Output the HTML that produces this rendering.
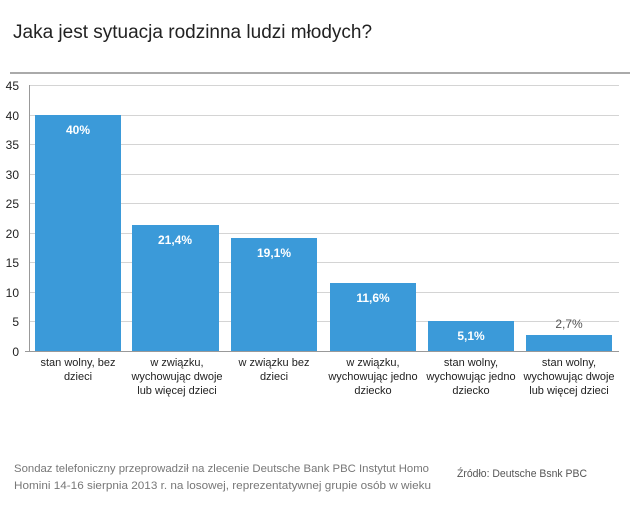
<!DOCTYPE html>
<html><head><meta charset="utf-8"><style>
body{margin:0;width:640px;height:507px;background:#fff;overflow:hidden;font-family:"Liberation Sans",sans-serif}
</style></head><body>
<svg width="640" height="507" xmlns="http://www.w3.org/2000/svg" font-family="Liberation Sans, sans-serif">
<text x="13" y="38" font-size="19" fill="#222">Jaka jest sytuacja rodzinna ludzi młodych?</text>
<line x1="10" y1="73" x2="630" y2="73" stroke="#aaa" stroke-width="2"/>
<g stroke="#d4d4d4" stroke-width="1">
<line x1="29" y1="85.5" x2="619" y2="85.5"/><line x1="29" y1="115.5" x2="619" y2="115.5"/>
<line x1="29" y1="144.5" x2="619" y2="144.5"/><line x1="29" y1="174.5" x2="619" y2="174.5"/>
<line x1="29" y1="203.5" x2="619" y2="203.5"/><line x1="29" y1="233.5" x2="619" y2="233.5"/>
<line x1="29" y1="262.5" x2="619" y2="262.5"/><line x1="29" y1="292.5" x2="619" y2="292.5"/>
<line x1="29" y1="321.5" x2="619" y2="321.5"/>
</g>
<line x1="29.5" y1="85" x2="29.5" y2="352" stroke="#999"/>
<line x1="25" y1="351.5" x2="619" y2="351.5" stroke="#999"/>
<g font-size="12" fill="#222" text-anchor="end">
<text x="19" y="90">45</text><text x="19" y="120">40</text><text x="19" y="149">35</text>
<text x="19" y="179">30</text><text x="19" y="208">25</text><text x="19" y="238">20</text>
<text x="19" y="267">15</text><text x="19" y="297">10</text><text x="19" y="326">5</text><text x="19" y="356">0</text>
</g>
<g fill="#3b9ad9">
<rect x="35" y="115" width="86" height="236"/>
<rect x="132" y="225" width="87" height="126"/>
<rect x="231" y="238" width="86" height="113"/>
<rect x="330" y="283" width="86" height="68"/>
<rect x="428" y="321" width="86" height="30"/>
<rect x="526" y="335" width="86" height="16"/>
</g>
<g font-size="12" font-weight="bold" fill="#fff" text-anchor="middle">
<text x="78" y="134">40%</text><text x="175" y="244">21,4%</text><text x="274" y="257">19,1%</text>
<text x="373" y="302">11,6%</text><text x="471" y="340">5,1%</text>
<text x="569" y="328" fill="#555" font-weight="normal">2,7%</text>
</g>
<g font-size="11" fill="#222" text-anchor="middle">
<text x="78" y="366">stan wolny, bez</text><text x="78" y="380">dzieci</text>
<text x="177" y="366">w związku,</text><text x="177" y="380">wychowując dwoje</text><text x="177" y="394">lub więcej dzieci</text>
<text x="274" y="366">w związku bez</text><text x="274" y="380">dzieci</text>
<text x="373" y="366">w związku,</text><text x="373" y="380">wychowując jedno</text><text x="373" y="394">dziecko</text>
<text x="471" y="366">stan wolny,</text><text x="471" y="380">wychowując jedno</text><text x="471" y="394">dziecko</text>
<text x="569" y="366">stan wolny,</text><text x="569" y="380">wychowując dwoje</text><text x="569" y="394">lub więcej dzieci</text>
</g>
<g font-size="11.3" fill="#777">
<text x="14" y="472" textLength="415" lengthAdjust="spacingAndGlyphs">Sondaz telefoniczny przeprowadził na zlecenie Deutsche Bank PBC Instytut Homo</text>
<text x="14" y="489" textLength="417" lengthAdjust="spacingAndGlyphs">Homini 14-16 sierpnia 2013 r. na losowej, reprezentatywnej grupie osób w wieku</text>
<text x="457" y="477" fill="#555" textLength="130" lengthAdjust="spacingAndGlyphs">Źródło: Deutsche Bsnk PBC</text>
</g>
</svg>
</body></html>
